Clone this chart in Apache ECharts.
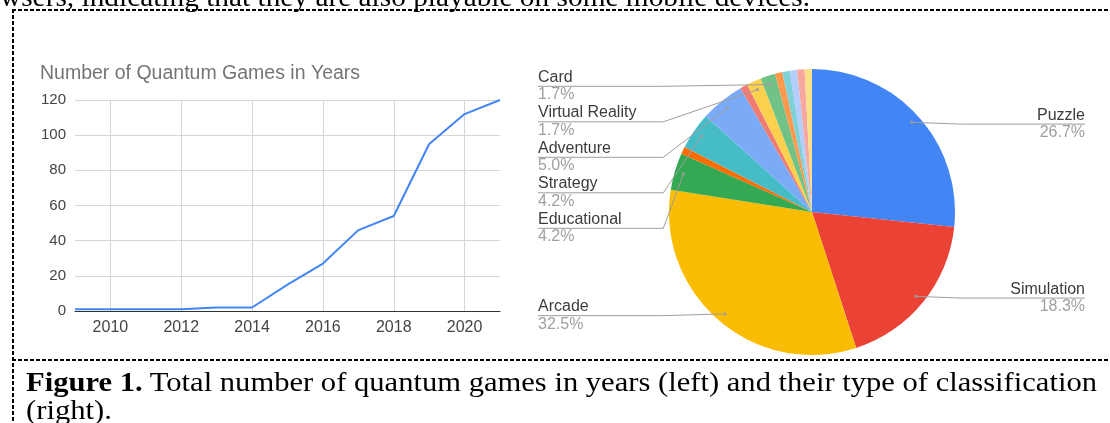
<!DOCTYPE html>
<html>
<head>
<meta charset="utf-8">
<script src="https://cdn.jsdelivr.net/npm/echarts@6/dist/echarts.min.js"></script>
<style>
  html, body { margin: 0; padding: 0; background: #fff; width: 1110px; height: 423px; overflow: hidden; position: relative; }
  #chart { position: absolute; left: 0; top: 0; width: 1110px; height: 423px; }
  .serif { font-family: "Liberation Serif", "DejaVu Serif", serif; color: #000; position: absolute; white-space: nowrap; transform-origin: 0 0; }
  #topText { left: 0; top: -17px; font-size: 28px; line-height: 28px; }
  #cap1 { left: 26px; top: 368px; font-size: 28px; line-height: 28px; }
  #cap2 { left: 26px; top: 396px; font-size: 28px; line-height: 28px; }
  .dashH { position: absolute; height: 2px; background: repeating-linear-gradient(to right, #000 0 4px, transparent 4px 6px); }
  .dashV { position: absolute; width: 2px; background: repeating-linear-gradient(to bottom, #000 0 4px, transparent 4px 6px); }
</style>
</head>
<body>
<div id="chart"></div>
<div class="serif" id="topText">wsers, indicating that they are also playable on some mobile devices.</div>
<div class="dashH" style="left:12px; top:9px; width:1098px;"></div>
<div class="dashH" style="left:12px; top:359px; width:1098px; height:1.5px;"></div>
<div class="dashV" style="left:12px; top:9px; height:414px;"></div>
<div class="serif" id="cap1"><b>Figure 1.</b> Total number of quantum games in years (left) and their type of classification</div>
<div class="serif" id="cap2">(right).</div>
<script>
// ---- data ----
const years = ['2009', '2010', '2011', '2012', '2013', '2014', '2015', '2016', '2017', '2018', '2019', '2020', '2021'];
const gameCounts = [1, 1, 1, 1, 2, 2, 15, 27, 46, 54, 95, 112, 120];
const yTickMin = 0, yTickMax = 120, yTickStep = 20;

const genres = ['Puzzle', 'Simulation', 'Arcade', 'Educational', 'Other A', 'Strategy', 'Adventure', 'Other B',
                'Virtual Reality', 'Card', 'Other C', 'Other D', 'Other E', 'Other F', 'Other G'];
const genreCounts = [32, 22, 39, 5, 1, 5, 6, 1, 2, 2, 1, 1, 1, 1, 1];
const genreLabelled = [true, true, true, true, false, true, true, false, true, true, false, false, false, false, false];
const genreColors = ['#4285f4', '#ea4335', '#fbbc04', '#34a853', '#ff6d01', '#46bdc6', '#7baaf7', '#f07b72',
                     '#fcd04f', '#71c287', '#ff994d', '#7ed1d7', '#b3cefb', '#f7a7a0', '#fdde89'];

// ---- fit serif text widths ----
function fitWidth(id, target) {
  const el = document.getElementById(id);
  const w = el.getBoundingClientRect().width;
  el.style.transform = 'scaleX(' + (target / w) + ')';
}
fitWidth('topText', 810);
fitWidth('cap1', 1071);
fitWidth('cap2', 86);

// ---- chart ----
const total = genreCounts.reduce((a, b) => a + b, 0);
const pieCX = 812, pieCY = 212, pieR = 143, dotR = 134;
const boxLeft = 538, boxRight = 25;
const labelShift = 2;

const pieData = genres.map((g, i) => ({ name: g, value: genreCounts[i], itemStyle: { color: genreColors[i] } }));
const labelData = genres.map((g, i) => ({
  name: g, value: genreCounts[i],
  label: { show: genreLabelled[i] },
  labelLine: { show: genreLabelled[i] }
}));
let cum = 0;
const dotData = [];
genreCounts.forEach((v, i) => {
  if (genreLabelled[i]) dotData.push([dotR, cum + v / 2]);
  cum += v;
});

const chart = echarts.init(document.getElementById('chart'), null, { renderer: 'canvas' });
const font = '"Liberation Sans", Arial, sans-serif';
chart.setOption({
  animation: false,
  textStyle: { fontFamily: font },
  title: {
    text: 'Number of Quantum Games in Years',
    left: 40, top: 64, padding: 0,
    textStyle: { fontSize: 19.5, fontWeight: 'normal', color: '#757575', fontFamily: font }
  },
  grid: { left: 75, top: 100, width: 425, height: 211 },
  xAxis: {
    type: 'category', data: years, boundaryGap: false,
    axisLine: { lineStyle: { color: '#333', width: 1 } },
    axisTick: { show: false },
    axisLabel: { interval: (i, v) => (+v) % 2 === 0, color: '#444', fontSize: 16, margin: 9, fontFamily: font },
    splitLine: { show: true, interval: (i, v) => (+v) % 2 === 0, lineStyle: { color: '#d6d6d6' } }
  },
  yAxis: {
    type: 'value', min: yTickMin, max: yTickMax, interval: yTickStep,
    axisLine: { show: false }, axisTick: { show: false },
    axisLabel: { color: '#444', fontSize: 15, margin: 9, fontFamily: font },
    splitLine: { lineStyle: { color: '#d6d6d6' } }
  },
  polar: { center: [pieCX, pieCY], radius: pieR },
  angleAxis: { type: 'value', min: 0, max: total, startAngle: 90, clockwise: true, show: false },
  radiusAxis: { type: 'value', min: 0, max: pieR, show: false },
  series: [
    {
      type: 'line', data: gameCounts, symbol: 'none',
      lineStyle: { color: '#4285f4', width: 2 }, z: 3
    },
    {
      type: 'pie', left: boxLeft, right: boxRight, top: 0, bottom: 0,
      center: [pieCX - boxLeft, pieCY], radius: pieR,
      startAngle: 90, clockwise: true, silent: true,
      data: pieData, label: { show: false }, labelLine: { show: false },
      itemStyle: { borderWidth: 0 }, emphasis: { disabled: true }
    },
    {
      type: 'pie', left: boxLeft, right: boxRight, top: 0, bottom: 0,
      center: [pieCX - boxLeft, pieCY], radius: dotR,
      startAngle: 90, clockwise: true, silent: true, z: 5,
      data: labelData,
      itemStyle: { color: 'rgba(0,0,0,0)', borderWidth: 0 },
      emphasis: { disabled: true },
      avoidLabelOverlap: true,
      label: {
        show: true, alignTo: 'edge', edgeDistance: 0, position: 'outer',
        formatter: p => '{n|' + p.name + '}\n{p|' + (p.value / total * 100).toFixed(1) + '%}',
        rich: {
          n: { fontSize: 16, lineHeight: 17, color: '#3c3c3c', fontFamily: font },
          p: { fontSize: 16, lineHeight: 18, color: '#a0a0a0', fontFamily: font }
        }
      },
      labelLine: { show: true, length: 0, length2: 0, smooth: false, lineStyle: { color: '#9e9e9e', width: 1 } },
      labelLayout: function (params) {
        const pts = params.labelLinePoints;
        if (!pts) return {};
        const r = params.labelRect;
        const isLeft = pts[0][0] < pieCX;
        const y = r.y + r.height / 2 + labelShift;
        const edgeX = isLeft ? r.x : r.x + r.width;
        const breakX = isLeft ? pieCX - pieR * 1.04 : pieCX + pieR * 1.04;
        return { dy: labelShift, labelLinePoints: [pts[0], [breakX, y], [edgeX, y]] };
      }
    },
    {
      type: 'scatter', coordinateSystem: 'polar', data: dotData,
      symbol: 'circle', symbolSize: 3.5, itemStyle: { color: '#9e9e9e' }, silent: true, z: 6
    }
  ]
});
</script>
</body>
</html>
